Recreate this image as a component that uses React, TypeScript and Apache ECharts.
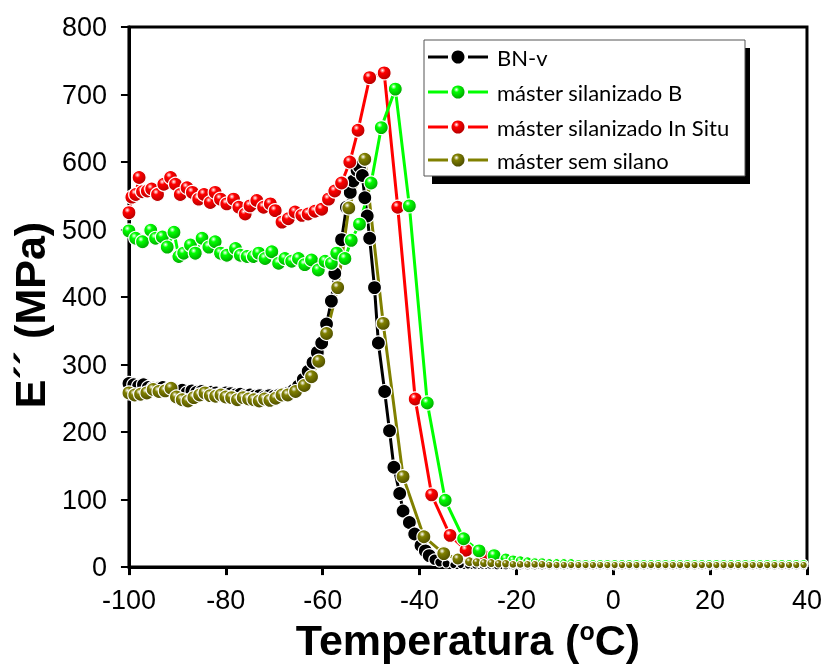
import React, { useEffect, useRef } from "react";
import * as echarts from "echarts";

const seriesNames = [
  "BN-v",
  "máster silanizado B",
  "máster silanizado In Situ",
  "máster sem silano",
];
const seriesColors = ["#000000", "#00ff00", "#ff0000", "#808000"];
const seriesDark = ["#000000", "#00a000", "#b00000", "#4a4a00"];

const xTicks = { min: -100, max: 40, interval: 20 };
const yTicks = { min: 0, max: 800, interval: 100 };

// shared high-temperature tail temperatures (°C)
const tailTemps = [
  -22.2, -20.7, -19.2, -17.7, -16.2, -14.7, -13.2, -11.7, -10.2, -8.7, -7.2, -5.7,
  -4.2, -2.7, -1.2, 0.3, 1.8, 3.3, 4.8, 6.3, 7.8, 9.3, 10.8, 12.3, 13.8, 15.3,
  16.8, 18.3, 19.8, 21.3, 22.8, 24.3, 25.8, 27.3, 28.8, 30.3, 31.8, 33.3, 34.8,
  36.3, 37.8, 39.3,
];

// BN-v
const bnTemps = [
  -100, -99, -98, -97, -96, -95, -94, -93, -92, -91, -90, -89, -88, -87, -86, -85,
  -84, -83, -82, -81, -80, -79, -78, -77, -76, -75, -74, -73, -72, -71, -70, -69,
  -68, -67, -66, -65, -64, -63, -62, -61.1, -60.2, -59.2, -58.2, -57.5, -56.1,
  -55.1, -54.3, -53.7, -52.9, -52.4, -51.8, -51.3, -50.8, -50.3, -49.3, -48.5,
  -47.2, -46.2, -45.3, -44.1, -43.4, -42.1, -41, -39.7, -38.8, -38, -36.9, -35.9,
  -34.5, -33, -31.5, -30, -28.5, -27, -25.5, -24,
];
const bnValues = [
  272, 270, 268, 270, 266, 265, 264, 266, 263, 264, 260, 262, 258, 261, 259, 260,
  257, 259, 258, 256, 258, 257, 255, 256, 254, 255, 253, 254, 252, 254, 253, 255,
  256, 258, 262, 268, 278, 290, 303, 318, 332, 360, 394, 435, 485,
  533, 555, 572, 588, 593, 580, 547, 520, 487, 414, 332,
  260, 202, 148, 109, 83, 66, 49, 32, 24, 17, 11, 7,
  5, 3, 3, 2, 2, 2, 2, 1,
];
const bnTail = [
  1, 1, 1, 1, 1, 1, 1, 1, 1, 1, 1, 1, 1, 1, 1, 1, 1, 1, 1, 1, 1, 1, 1, 1, 1, 1,
  1, 1, 1, 1, 1, 1, 1, 1, 1, 1, 1, 1, 1, 1, 1, 1,
];

// máster silanizado B (green)
const greenTemps = [
  -100, -98.6, -97.2, -95.5, -94.5, -93.1, -92.1, -90.7, -89.7, -88.7, -87.3,
  -86.3, -84.9, -83.5, -82.2, -81.1, -79.8, -78, -77, -75.6, -74.3, -73.2, -71.9,
  -70.5, -69.1, -67.8, -66.4, -65, -63.7, -62.3, -60.9, -59.5, -58.2, -57.1,
  -55.4, -54.1, -52.4, -50, -47.9, -45, -42.1, -38.4, -34.7, -30.9, -27.7, -24.6,
];
const greenValues = [
  498, 487, 482, 499, 487, 489, 474, 496, 460, 465, 477,
  465, 487, 474, 482, 465, 462, 472, 462, 460, 460, 465, 457,
  467, 450, 457, 453, 457, 448, 455, 440, 453, 450, 465,
  457, 484, 508, 569, 651, 708, 535, 243, 99, 42, 24, 17,
];
const greenTail = [
  12, 10, 9, 8, 7, 7, 6, 6, 6, 6, 5, 5, 5, 5, 5, 5, 5, 5, 5, 5, 5, 5, 5, 5, 5,
  5, 5, 5, 5, 5, 5, 5, 5, 5, 5, 5, 5, 5, 5, 5, 5, 5,
];

// máster silanizado In Situ (red)
const redTemps = [
  -100, -99.4, -98.6, -97.9, -97.2, -96.2, -95.3, -94.1, -92.8, -91.4, -90.4,
  -89.4, -88, -86.9, -85.6, -84.5, -83.2, -82.2, -81.1, -79.8, -78.4, -77.3, -76,
  -75, -73.6, -72.2, -70.8, -69.8, -68.4, -67.1, -65.7, -64.3, -63, -61.6, -60.2,
  -58.8, -57.5, -56.1, -54.4, -52.7, -50.3, -47.3, -44.5, -40.9, -37.5, -33.7,
  -30.4, -27, -24.3,
];
const redValues = [
  525, 548, 552, 577, 556, 557, 560, 552, 567, 577, 567,
  552, 562, 555, 545, 552, 540, 555, 545, 538, 545, 533, 523,
  535, 543, 533, 538, 528, 511, 516, 526, 521, 523, 527, 530,
  545, 557, 569, 600, 647, 725, 732, 533, 249, 107, 47,
  25, 17, 13,
];
const redTail = [
  11, 9, 8, 7, 7, 6, 6, 6, 6, 5, 5, 5, 5, 5, 5, 5, 5, 5, 5, 5, 5, 5, 5, 5, 5,
  5, 5, 5, 5, 5, 5, 5, 5, 5, 5, 5, 5, 5, 5, 5, 5, 5,
];

// máster sem silano (olive)
const oliveTemps = [
  -100, -98.8, -97.6, -96.3, -95, -93.8, -92.5, -91.3, -90.2, -89, -87.8, -86.6,
  -85.4, -84.3, -83.2, -82.1, -81, -80, -78.8, -77.6, -76.4, -75.3, -74.2, -73.1,
  -72, -70.9, -69.7, -68.4, -67.2, -65.6, -63.8, -62.3, -60.8, -59.2, -56.9,
  -54.6, -51.3, -47.5, -43.4, -39.1, -35, -32.1, -29.7, -28.2, -26.7, -25.2, -23.7,
];
const oliveValues = [
  258, 255, 256, 258, 263, 260, 261, 265, 252, 248, 246, 251,
  255, 258, 254, 253, 255, 252, 251, 248, 251, 249, 248, 246,
  249, 247, 250, 255, 255, 260, 269, 282, 305, 346, 414,
  532, 604, 361, 134, 45, 20, 12, 8, 7, 6, 6, 5,
];
const oliveTail = [
  5, 4, 4, 4, 4, 4, 3, 3, 3, 3, 3, 3, 3, 3, 3, 3, 3, 3, 3, 3, 3, 3, 3, 3, 3, 3,
  3, 3, 3, 3, 3, 3, 3, 3, 3, 3, 3, 3, 3, 3, 3, 3,
];

const allTemps = [
  [...bnTemps, ...tailTemps],
  [...greenTemps, ...tailTemps],
  [...redTemps, ...tailTemps],
  [...oliveTemps, ...tailTemps],
];
const allValues = [
  [...bnValues, ...bnTail],
  [...greenValues, ...greenTail],
  [...redValues, ...redTail],
  [...oliveValues, ...oliveTail],
];

// drawing order: BN-v, red, green, olive (olive on top)
const drawOrder = [0, 2, 1, 3];

function ballFill(i: number): any {
  if (i === 0) return "#000000";
  return {
    type: "radial",
    x: 0.38,
    y: 0.32,
    r: 0.72,
    colorStops: [
      { offset: 0, color: "#ffffff" },
      { offset: 0.28, color: seriesColors[i] },
      { offset: 1, color: seriesDark[i] },
    ],
  };
}

const FONT = "'Liberation Sans', Arial, sans-serif";

export default function App() {
  const ref = useRef<HTMLDivElement>(null);
  useEffect(() => {
    if (!ref.current) return;
    const chart = echarts.init(ref.current, undefined, { renderer: "svg" });

    const series = drawOrder.map((i) => ({
      type: "line",
      name: seriesNames[i],
      data: allTemps[i].map((t, k) => [t, allValues[i][k]]),
      symbol: "circle",
      symbolSize: (v: number[]) => Math.max(7, Math.min(14, 6 + v[1] * 0.5)),
      showAllSymbol: true,
      lineStyle: { color: seriesColors[i], width: 3 },
      itemStyle: { color: ballFill(i), borderColor: "#ffffff", borderWidth: 1.2 },
      z: 2,
    }));

    // legend drawn as graphic
    const legendX = 424;
    const legendY = 40;
    const legendW = 321;
    const legendH = 136;
    const rowYs = [57, 92, 127, 160];
    const legendEls: any[] = [
      {
        type: "rect",
        shape: { x: legendX + 8, y: legendY + 8, width: legendW - 3, height: legendH },
        style: { fill: "#000" },
        z: 10,
      },
      {
        type: "rect",
        shape: { x: legendX, y: legendY, width: legendW, height: legendH },
        style: { fill: "#fff", stroke: "#555", lineWidth: 1 },
        z: 11,
      },
    ];
    seriesNames.forEach((name, i) => {
      const y = rowYs[i];
      legendEls.push(
        {
          type: "line",
          shape: { x1: 428, y1: y, x2: 448, y2: y },
          style: { stroke: seriesColors[i], lineWidth: 3 },
          z: 12,
        },
        {
          type: "line",
          shape: { x1: 468, y1: y, x2: 488, y2: y },
          style: { stroke: seriesColors[i], lineWidth: 3 },
          z: 12,
        },
        {
          type: "circle",
          shape: { cx: 458, cy: y, r: 6.5 },
          style: { fill: ballFill(i) },
          z: 12,
        },
        {
          type: "text",
          x: 497,
          y: y,
          style: {
            text: name,
            font: "22px Lato, 'Open Sans', sans-serif",
            fill: "#000",
            verticalAlign: "middle",
            align: "left",
          },
          z: 12,
        }
      );
    });

    chart.setOption({
      animation: false,
      grid: {
        left: 126,
        right: 17,
        top: 27,
        bottom: 91,
        show: true,
        borderColor: "#000",
        borderWidth: 3,
        backgroundColor: "transparent",
      },
      xAxis: {
        type: "value",
        min: xTicks.min,
        max: xTicks.max,
        interval: xTicks.interval,
        axisLine: { show: true, onZero: false, lineStyle: { color: "#000", width: 3 } },
        axisTick: { show: true, inside: false, length: 8, lineStyle: { color: "#000", width: 3 } },
        axisLabel: { color: "#000", fontSize: 27, fontFamily: FONT, margin: 19 },
        splitLine: { show: false },
        name: "Temperatura ({sup|o}C)",
        nameLocation: "middle",
        nameGap: 42,
        nameTextStyle: {
          color: "#000",
          fontSize: 43,
          fontWeight: "bold",
          fontFamily: FONT,
          rich: {
            sup: {
              color: "#000",
              fontSize: 25,
              fontWeight: "bold",
              fontFamily: FONT,
              verticalAlign: "top",
            },
          },
        },
      },
      yAxis: {
        type: "value",
        min: yTicks.min,
        max: yTicks.max,
        interval: yTicks.interval,
        axisLine: { show: true, onZero: false, lineStyle: { color: "#000", width: 3 } },
        axisTick: { show: true, inside: false, length: 8, lineStyle: { color: "#000", width: 2 } },
        axisLabel: { color: "#000", fontSize: 27, fontFamily: FONT, margin: 22 },
        splitLine: { show: false },
        name: "E\u00b4\u00b4 (MPa)",
        nameLocation: "middle",
        nameGap: 75,
        nameTextStyle: {
          color: "#000",
          fontSize: 43,
          fontWeight: "bold",
          fontFamily: FONT,
          padding: [0, 36, 0, 0],
        },
      },
      series,
      graphic: { elements: legendEls },
    });
    return () => chart.dispose();
  }, []);
  return (
    <div
      ref={ref}
      style={{ position: "fixed", left: 0, top: 0, width: 825, height: 666 }}
    />
  );
}
